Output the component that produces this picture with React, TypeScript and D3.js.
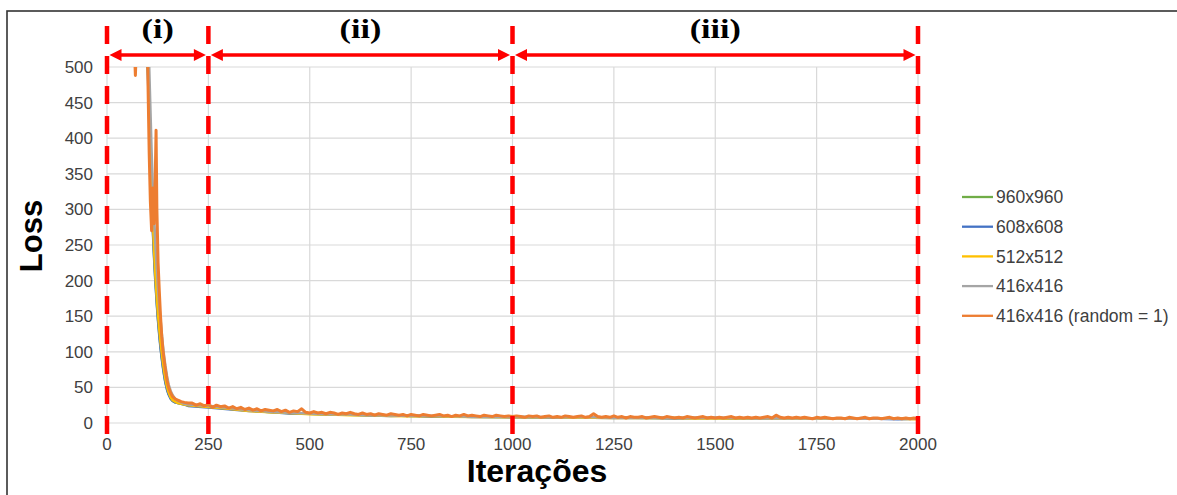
import React from "react";
import * as d3 from "d3";

// Training iterations sampled for the early phase (shared by every series)
const earlyIters = [0, 30, 60, 66, 68, 70, 72, 74, 90, 98, 101, 104, 107, 110, 113, 116, 119, 121, 123, 126, 129, 132, 135, 138, 141, 144, 148, 152, 157, 162, 168, 175, 183, 191, 200];
// Later iterations: dense for the top series, coarser for the others
const orangeTailIters = d3.range(210, 2001, 10);
const tailIters = d3.range(250, 2001, 50);

const green960Early = [1380, 1080, 890, 870, 860, 850, 840, 830, 690, 555, 497, 437, 377, 322, 276, 238, 206, 187, 169, 146, 126, 108, 93, 80, 68, 58, 48, 41, 35, 31, 29, 28, 27, 26, 25];
const blue608Early = [1350, 1050, 880, 860, 850, 840, 830, 820, 680, 545, 490, 430, 370, 318, 272, 234, 202, 184, 166, 143, 123, 106, 91, 78, 67, 57, 47, 40, 34, 31, 29, 28, 27, 26, 24];
const yellow512Early = [1300, 1000, 900, 880, 870, 860, 850, 840, 700, 570, 505, 445, 385, 330, 285, 245, 212, 193, 175, 152, 132, 114, 99, 85, 73, 62, 51, 43, 36, 32, 30, 28, 27, 26, 25];
const gray416Early = [1400, 1100, 950, 920, 910, 900, 890, 880, 760, 620, 550, 500, 440, 380, 330, 290, 255, 235, 215, 188, 165, 145, 126, 108, 93, 80, 66, 54, 45, 39, 34, 31, 29, 27, 26];
const orange416Early = [1500, 1200, 900, 700, 520, 488, 520, 700, 800, 620, 480, 380, 310, 270, 330, 280, 345, 411, 300, 225, 185, 150, 122, 102, 88, 75, 60, 50, 42, 37, 34, 32, 30, 29, 28];

const green960Tail = [23, 20, 17.5, 15.5, 14, 13, 12, 11.5, 11, 10.5, 10, 9.5, 9, 9, 8.5, 8.5, 8, 8, 8, 7.5, 7.5, 7.5, 7, 7, 7, 7, 6.5, 6.5, 6.5, 6.5, 6.5, 6, 6, 6, 6, 6];
const blue608Tail = [22, 19.5, 17, 15.5, 13.5, 13, 12, 11.5, 10.5, 10, 10.5, 9, 9.5, 8.5, 9, 8, 8.5, 7.5, 8, 7.5, 7, 7.5, 7, 6.5, 7, 7, 6.5, 6.5, 6, 6.5, 6, 6.5, 6, 6, 5.5, 6];
const yellow512Tail = [22.5, 20, 17, 15, 14, 12.5, 12, 11, 11, 10, 9.5, 9.5, 9, 8.5, 8.5, 8, 8, 8, 7.5, 7.5, 7, 7, 7, 7, 6.5, 6.5, 6.5, 6.5, 6, 6, 6, 6, 6, 6, 6, 5.5];
const gray416Tail = [24, 21, 18, 16, 14.5, 13.5, 12.5, 12, 11, 10.5, 10, 10, 9.5, 9, 9, 8.5, 8.5, 8, 8, 8, 7.5, 7.5, 7.5, 7, 7, 7, 7, 6.5, 6.5, 6.5, 6.5, 6.5, 6, 6, 6, 6];
const orange416Tail = [
  28, 25, 27, 24, 26, 22, 25, 23, 24, 21,
  23, 20, 22, 19, 21, 18, 20, 17, 19, 18,
  17, 19, 16, 18, 15, 17, 16, 20, 15, 14,
  16, 14, 15, 13, 15, 14, 12, 14, 13, 15,
  13, 12, 14, 12, 13, 11, 13, 12, 11, 13,
  12, 11, 12, 10, 12, 11, 10, 12, 11, 10,
  11, 12, 10, 11, 9, 11, 10, 12, 10, 11,
  10, 9, 11, 10, 9, 11, 10, 9, 10, 9,
  10, 9, 8, 10, 9, 10, 8, 9, 10, 8,
  9, 8, 10, 9, 8, 9, 10, 8, 9, 13,
  9, 8, 9, 8, 10, 8, 9, 7, 9, 8,
  8, 9, 7, 8, 9, 8, 7, 9, 8, 7,
  8, 7, 9, 8, 7, 8, 9, 7, 8, 7,
  8, 7, 8, 9, 7, 8, 7, 8, 7, 8,
  7, 8, 9, 7, 11, 8, 7, 8, 7, 8,
  7, 8, 7, 6, 8, 7, 8, 7, 6, 7,
  7, 6, 8, 7, 6, 7, 8, 6, 7, 7,
  6, 7, 8, 6, 7, 6, 7, 6, 7, 6,
];

const seriesNames = ["960x960", "608x608", "512x512", "416x416", "416x416 (random = 1)"];
const seriesColors = ["#70AD47", "#4472C4", "#FFC000", "#A5A5A5", "#ED7D31"];

const xTicks = [0, 250, 500, 750, 1000, 1250, 1500, 1750, 2000];
const yTicks = [0, 50, 100, 150, 200, 250, 300, 350, 400, 450, 500];
const phaseBounds = [0, 250, 1000, 2000];
const phaseLabels = ["(i)", "(ii)", "(iii)"];

const W = 1177;
const H = 495;
const x = d3.scaleLinear().domain([0, 2000]).range([107, 918]);
const y = d3.scaleLinear().domain([0, 500]).range([423, 67]);

type Pt = [number, number];
const zip = (xs: number[], ys: number[]): Pt[] => xs.map((v, i) => [v, ys[i]]);

const series: Pt[][] = [
  [...zip(earlyIters, green960Early), ...zip(tailIters, green960Tail)],
  [...zip(earlyIters, blue608Early), ...zip(tailIters, blue608Tail)],
  [...zip(earlyIters, yellow512Early), ...zip(tailIters, yellow512Tail)],
  [...zip(earlyIters, gray416Early), ...zip(tailIters, gray416Tail)],
  [...zip(earlyIters, orange416Early), ...zip(orangeTailIters, orange416Tail)],
];

const line = d3
  .line<Pt>()
  .x((d) => x(d[0]))
  .y((d) => y(d[1]));

const SANS = "'Liberation Sans', Arial, sans-serif";
const SERIF = "'Liberation Serif', 'Times New Roman', serif";
const RED = "#ff0000";
const ARROW_Y = 55;

function ArrowHead({ tip, dir }: { tip: number; dir: 1 | -1 }) {
  const len = 12;
  const half = 6;
  const base = tip - dir * len;
  return (
    <polygon
      points={`${tip},${ARROW_Y} ${base},${ARROW_Y - half} ${base},${ARROW_Y + half}`}
      fill={RED}
    />
  );
}

export default function App() {
  const [x0, x1] = x.range();
  const [yb, yt] = y.range();
  return (
    <svg
      width={W}
      height={H}
      style={{ position: "absolute", left: 0, top: 0, background: "#fff" }}
    >
      <defs>
        <clipPath id="plot-clip">
          <rect x={x0} y={yt} width={x1 - x0} height={yb - yt} />
        </clipPath>
      </defs>
      <rect x={0} y={0} width={W} height={H} fill="#fff" />
      {/* outer frame */}
      <rect x={7} y={11} width={W + 20} height={H + 20} fill="none" stroke="#333" strokeWidth={1.6} />

      {/* grid */}
      {yTicks.map((t) => (
        <line key={`gy${t}`} x1={x0} x2={x1} y1={y(t)} y2={y(t)} stroke="#d9d9d9" strokeWidth={1.2} />
      ))}
      {xTicks.map((t) => (
        <line key={`gx${t}`} x1={x(t)} x2={x(t)} y1={yt} y2={yb} stroke="#d9d9d9" strokeWidth={1.2} />
      ))}

      {/* tick labels */}
      {yTicks.map((t) => (
        <text
          key={`ty${t}`}
          x={93}
          y={y(t)}
          dy="0.35em"
          textAnchor="end"
          fontFamily={SANS}
          fontSize={17}
          fill="#404040"
        >
          {t}
        </text>
      ))}
      {xTicks.map((t) => (
        <text
          key={`tx${t}`}
          x={x(t)}
          y={450}
          textAnchor="middle"
          fontFamily={SANS}
          fontSize={17}
          fill="#404040"
        >
          {t}
        </text>
      ))}

      {/* loss curves */}
      <g clipPath="url(#plot-clip)">
        {series.map((s, i) => (
          <path
            key={seriesNames[i]}
            d={line(s) ?? ""}
            fill="none"
            stroke={seriesColors[i]}
            strokeWidth={i === 4 ? 3 : 2.6}
            strokeLinejoin="round"
          />
        ))}
      </g>

      {/* phase markers */}
      {phaseBounds.map((b) => (
        <line
          key={`pb${b}`}
          x1={x(b)}
          x2={x(b)}
          y1={26}
          y2={434}
          stroke={RED}
          strokeWidth={4.5}
          strokeDasharray="18 12"
        />
      ))}
      {phaseLabels.map((lab, i) => {
        const a = x(phaseBounds[i]) + 2.5;
        const b = x(phaseBounds[i + 1]) - 2.5;
        const cx = (a + b) / 2;
        return (
          <g key={lab}>
            <line x1={a + 8} x2={b - 8} y1={ARROW_Y} y2={ARROW_Y} stroke={RED} strokeWidth={3.5} />
            <ArrowHead tip={a} dir={-1} />
            <ArrowHead tip={b} dir={1} />
            <text
              transform={`translate(${cx},38) scale(1.22,1)`}
              textAnchor="middle"
              fontFamily={SERIF}
              fontWeight="bold"
              fontSize={28}
              fill="#000"
            >
              {lab}
            </text>
          </g>
        );
      })}

      {/* axis titles */}
      <text
        transform="translate(42,236) rotate(-90)"
        textAnchor="middle"
        fontFamily={SANS}
        fontWeight="bold"
        fontSize={31}
        fill="#000"
      >
        Loss
      </text>
      <text
        x={537}
        y={482}
        textAnchor="middle"
        fontFamily={SANS}
        fontWeight="bold"
        fontSize={32}
        fill="#000"
      >
        Iterações
      </text>

      {/* legend */}
      {seriesNames.map((name, i) => {
        const cy = 197 + i * 29.7;
        return (
          <g key={`lg${name}`}>
            <line x1={962} x2={993} y1={cy} y2={cy} stroke={seriesColors[i]} strokeWidth={2.3} />
            <text x={996} y={cy} dy="0.35em" fontFamily={SANS} fontSize={17.5} fill="#404040">
              {name}
            </text>
          </g>
        );
      })}
    </svg>
  );
}
